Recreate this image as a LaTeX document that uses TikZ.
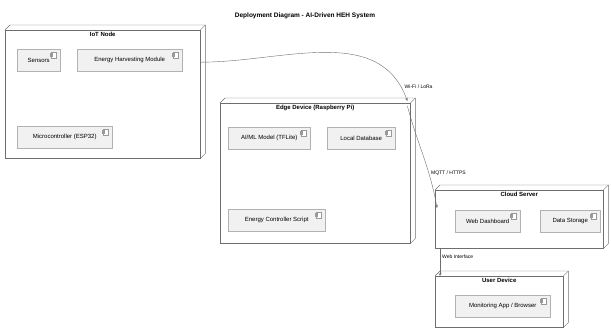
\documentclass[tikz,border=0pt]{standalone}
\usepackage{fontspec}
\setmainfont{Liberation Sans}
\usepackage{xcolor}
\usetikzlibrary{arrows, positioning}
\definecolor{compfill}{HTML}{F1F1F1}
\definecolor{boxline}{HTML}{6E6E6E}
\tikzstyle{arrow} = [thin,->,>=stealth,draw=boxline]
\tikzstyle{devnode}=[draw=boxline,fill=white,thin,inner sep=0pt,anchor=north west]
\tikzstyle{comp}=[draw=gray!60,fill=compfill,thin,inner sep=2pt,minimum height=22pt,anchor=north west,font=\fontsize{6}{7}\selectfont]
\tikzstyle{devtitle}=[anchor=north,inner sep=2pt,font=\bfseries\fontsize{6}{7}\selectfont]
\tikzstyle{linklabel}=[inner sep=1pt,font=\fontsize{5}{6}\selectfont]

\begin{document}
\begin{tikzpicture}[x=1pt,y=-1pt]
    \useasboundingbox (0,0) rectangle (611,327);
    \node[font=\bfseries\fontsize{6.5}{8}\selectfont] (title) at (305,16) {Deployment Diagram - AI-Driven HEH System};

    % nodes
    \node[devnode, minimum width=195, minimum height=128] (iot) at (5,30) {};
    \node[devnode, minimum width=190, minimum height=140] (edge) at (220,103) {};
    \node[devnode, minimum width=168, minimum height=58] (cloud) at (435,190) {};
    \node[devnode, minimum width=128, minimum height=51] (user) at (435,276) {};
    \foreach \n in {iot,edge,cloud,user} {
        \draw[boxline] (\n.north west) -- ([shift={(5,-5)}]\n.north west) -- ([shift={(5,-5)}]\n.north east) -- ([shift={(5,-5)}]\n.south east) -- (\n.south east);
        \draw[boxline] (\n.north east) -- ([shift={(5,-5)}]\n.north east);
    }
    \node[devtitle] (iott) at (iot.north) {IoT Node};
    \node[devtitle] (edget) at (edge.north) {Edge Device (Raspberry Pi)};
    \node[devtitle] (cloudt) at (cloud.north) {Cloud Server};
    \node[devtitle] (usert) at (user.north) {User Device};

    % components
    \node[comp, minimum width=43] (sens) at (17,49) {Sensors};
    \node[comp, minimum width=105] (ehm) at (77,49) {Energy Harvesting Module};
    \node[comp, minimum width=95] (mcu) at (17,126) {Microcontroller (ESP32)};
    \node[comp, minimum width=82] (ml) at (228,127) {AI/ML Model (TFLite)};
    \node[comp, minimum width=68] (db) at (327,127) {Local Database};
    \node[comp, minimum width=97] (ctl) at (228,209) {Energy Controller Script};
    \node[comp, minimum width=65] (web) at (455,210) {Web Dashboard};
    \node[comp, minimum width=60] (store) at (540,210) {Data Storage};
    \node[comp, minimum width=95] (mon) at (455,295) {Monitoring App / Browser};
    \foreach \c in {sens,ehm,mcu,ml,db,ctl,web,store,mon} {
        \draw[gray!80,fill=white] ([shift={(-9,3)}]\c.north east) rectangle ++(5,6);
        \draw[gray!80,fill=white] ([shift={(-10,4.5)}]\c.north east) rectangle ++(2,1);
        \draw[gray!80,fill=white] ([shift={(-10,6.5)}]\c.north east) rectangle ++(2,1);
    }

    % links
    \draw[arrow] ([yshift=32pt]iot.east) to[out=0,in=110] node[linklabel, pos=0.93, right=3pt] {Wi-Fi / LoRa} ([shift={(-3,-2)}]edge.north east);
    \draw[arrow] ([shift={(-3,3)}]edge.north east) to[out=-75,in=100] node[linklabel, pos=0.68, right=1pt] {MQTT / HTTPS} ([shift={(2,18)}]cloud.north west);
    \draw[arrow] ([xshift=5pt]cloud.south west) -- node[linklabel, pos=0.3, right=1pt] {Web Interface} ([xshift=5pt]user.north west);
\end{tikzpicture}
\end{document}
